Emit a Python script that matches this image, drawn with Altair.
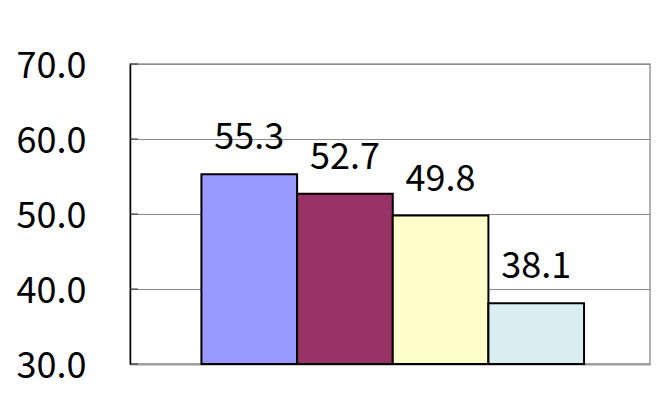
import altair as alt
import pandas as pd

categories = ["A", "B", "C", "D"]
values = [55.3, 52.7, 49.8, 38.1]
colors = ["#9999FF", "#993366", "#FFFFCC", "#DAEDF0"]
y_ticks = [30, 40, 50, 60, 70]

df = pd.DataFrame({"cat": categories, "value": values})
ticks_df = pd.DataFrame({"t": y_ticks})

FONT = "Noto Sans CJK JP"

x_enc = alt.X("cat:N", sort=categories,
              scale=alt.Scale(paddingInner=0, paddingOuter=0.718, align=0.52),
              axis=alt.Axis(title=None, labels=False, ticks=False, domain=True,
                            domainColor="#999999", domainWidth=2))
y_scale = alt.Scale(domain=[30, 70], nice=False, zero=False)

bars = alt.Chart(df).mark_bar(stroke="black", strokeWidth=2).encode(
    x=x_enc,
    y=alt.Y("value:Q", scale=y_scale,
            axis=alt.Axis(values=y_ticks, format=".1f", title=None,
                          labelFont=FONT, labelFontSize=36, labelColor="black",
                          labelPadding=44, labelOffset=2, tickSize=0,
                          domainColor="black", domainWidth=1.5,
                          grid=True, gridColor="#8c8c8c", gridWidth=1)),
    y2=alt.datum(30),
    color=alt.Color("cat:N", sort=categories,
                    scale=alt.Scale(domain=categories, range=colors), legend=None),
)

labels = alt.Chart(df).mark_text(baseline="alphabetic", dy=-25, fontSize=36,
                                 font=FONT, color="black").encode(
    x=alt.X("cat:N", sort=categories),
    y=alt.Y("value:Q", scale=y_scale),
    text=alt.Text("value:Q", format=".1f"),
)

inner_ticks = alt.Chart(ticks_df).mark_rule(color="#333333", strokeWidth=1).encode(
    y=alt.Y("t:Q", scale=y_scale),
    x=alt.value(0),
    x2=alt.value(8),
)

chart = alt.layer(bars, inner_ticks, labels).properties(
    width=520,
    height=300,
    autosize=alt.AutoSizeParams(type="none"),
    padding={"left": 122, "top": 56, "right": 2, "bottom": 30},
    background="white",
).configure_view(stroke="#999999", strokeWidth=1.5)

chart.save("out.html", embed_options={"renderer": "svg", "actions": False})
